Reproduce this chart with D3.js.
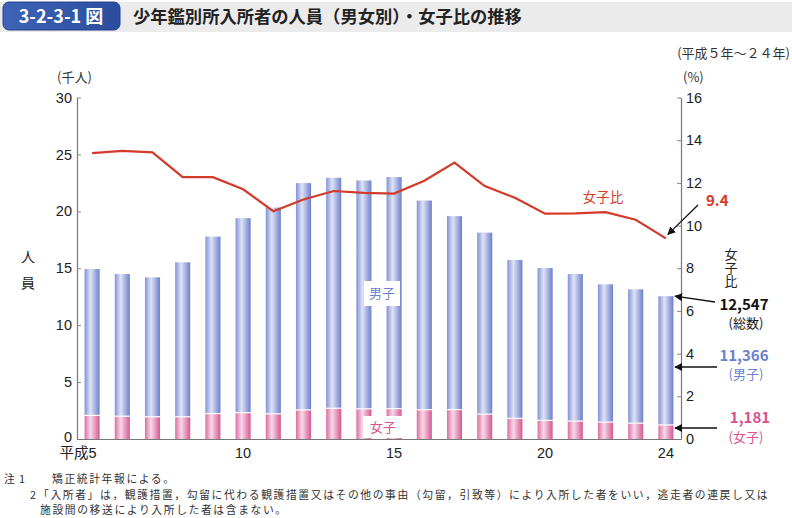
<!DOCTYPE html>
<html><head><meta charset="utf-8">
<script src="https://cdn.jsdelivr.net/npm/d3@7"></script>
<style>
body{margin:0;background:#fff;}
svg{display:block;font-family:"Noto Sans CJK JP","Noto Sans",sans-serif;}
</style>
</head><body>
<svg id="c" width="792" height="518"></svg>
<script>
// ---- data (thousands of persons, %)
const years = [5,6,7,8,9,10,11,12,13,14,15,16,17,18,19,20,21,22,23,24];
const xTickYears = [5,10,15,20,24];
const xTickLabels = ["平成5","10","15","20","24"];
const male   = [12.91,12.54,12.30,13.62,15.60,17.14,18.17,19.98,20.30,20.11,20.39,18.43,17.05,16.00,13.97,13.44,12.97,12.16,11.81,11.366];
const female = [2.02,1.95,1.90,1.90,2.18,2.26,2.16,2.50,2.65,2.60,2.62,2.52,2.53,2.13,1.76,1.58,1.52,1.43,1.34,1.181];
const ratio  = [13.39,13.50,13.43,12.27,12.27,11.70,10.67,11.22,11.62,11.53,11.50,12.10,12.95,11.85,11.30,10.56,10.57,10.63,10.27,9.4];
const leftTicks  = [0,5,10,15,20,25,30];
const rightTicks = [0,2,4,6,8,10,12,14,16];
const lastLabels = {total:"12,547", male:"11,366", female:"1,181", ratio:"9.4"};

const svg = d3.select("#c");
const L = 77, R = 681, T = 97.5, B = 439;

const x = d3.scaleBand().domain(years).range([L, R]).paddingInner(0.5).paddingOuter(0.25);
const yL = d3.scaleLinear().domain([0, 30]).range([B, T]);
const yR = d3.scaleLinear().domain([0, 16]).range([B, T]);

// gradients
const defs = svg.append("defs");
function grad(id, stops){
  const g = defs.append("linearGradient").attr("id", id).attr("x1","0%").attr("x2","100%").attr("y1","0%").attr("y2","0%");
  stops.forEach(s => g.append("stop").attr("offset", s[0]).attr("stop-color", s[1]));
}
grad("gBlue", [["0%","#8392d6"],["40%","#dfe3f6"],["100%","#6c7fcb"]]);
grad("gPink", [["0%","#dc6ea2"],["40%","#f8d9e7"],["100%","#d45893"]]);
grad("gHead", [["0%","#3f63b5"],["100%","#2b4d9e"]]);
defs.append("marker").attr("id","arr").attr("viewBox","0 0 10 10").attr("refX",9).attr("refY",5)
  .attr("markerWidth",8).attr("markerHeight",8).attr("orient","auto-start-reverse").attr("markerUnits","userSpaceOnUse")
  .append("path").attr("d","M0,0 L10,5 L0,10 z").attr("fill","#111");

// header
svg.append("rect").attr("x",0).attr("y",2).attr("width",792).attr("height",30).attr("fill","#ebebeb");
svg.append("rect").attr("x",3).attr("y",2).attr("width",117).attr("height",28).attr("rx",6).attr("fill","url(#gHead)").attr("stroke","#24428a").attr("stroke-width",1);
svg.append("text").attr("x",61).attr("y",23).attr("text-anchor","middle").attr("fill","#fff")
  .attr("font-size",18).attr("font-weight","bold").text("3-2-3-1 図");
svg.append("text").attr("x",133).attr("y",23).attr("fill","#222").attr("font-size",17.3).attr("font-weight","bold")
  .text("少年鑑別所入所者の人員（男女別）・女子比の推移");

svg.append("text").attr("x",790).attr("y",58).attr("text-anchor","end").attr("font-size",13).attr("fill","#333").text("(平成５年～２４年)");
svg.append("text").attr("x",57).attr("y",82).attr("font-size",13).attr("fill","#333").text("(千人)");
svg.append("text").attr("x",683).attr("y",82).attr("font-size",13).attr("fill","#333").text("(%)");

// bars
const g = svg.append("g");
years.forEach((yr, i) => {
  const bx = x(yr), bw = x.bandwidth();
  const fTop = yL(female[i]);
  g.append("rect").attr("x",bx).attr("width",bw).attr("y",fTop).attr("height",B - fTop).attr("fill","url(#gPink)");
  const mTop = yL(female[i] + male[i]);
  g.append("rect").attr("x",bx).attr("width",bw).attr("y",mTop).attr("height",fTop - mTop - 1.2).attr("fill","url(#gBlue)");
});

// labels inside plot
svg.append("rect").attr("x",364).attr("y",281).attr("width",36).attr("height",25).attr("fill","#fff");
svg.append("text").attr("x",382).attr("y",298).attr("text-anchor","middle").attr("font-size",13).attr("fill","#6b7fcf").text("男子");
svg.append("rect").attr("x",363).attr("y",416).attr("width",39).attr("height",22).attr("fill","#fff");
svg.append("text").attr("x",383).attr("y",432).attr("text-anchor","middle").attr("font-size",13).attr("fill","#d9508f").text("女子");

// ratio line
const line = d3.line().x((d,i) => x(years[i]) + x.bandwidth()/2).y(d => yR(d));
svg.append("path").datum(ratio).attr("d", line).attr("fill","none").attr("stroke","#d43a2a").attr("stroke-width",2.2).attr("stroke-linejoin","miter");
svg.append("text").attr("x",603).attr("y",202).attr("text-anchor","middle").attr("font-size",13.5).attr("fill","#d43a2a").text("女子比");

// axes
const axL = svg.append("g").attr("transform",`translate(${L},0)`)
  .call(d3.axisLeft(yL).tickValues(leftTicks).tickSize(-4).tickSizeOuter(0).tickPadding(5));
const axR = svg.append("g").attr("transform",`translate(${R},0)`)
  .call(d3.axisRight(yR).tickValues(rightTicks).tickSize(-4).tickSizeOuter(0).tickPadding(5));
const axB = svg.append("g").attr("transform",`translate(0,${B})`)
  .call(d3.axisBottom(x).tickValues(xTickYears).tickSize(0).tickSizeOuter(0).tickPadding(9)
    .tickFormat(d => xTickLabels[xTickYears.indexOf(d)]));
[axL, axR, axB].forEach(a => {
  a.select(".domain").attr("stroke","#777").attr("stroke-width",1.2);
  a.selectAll(".tick line").attr("stroke","#888");
  a.selectAll("text").attr("font-size",14.5).attr("fill","#222").attr("font-family",'"Liberation Sans","Noto Sans CJK JP",sans-serif');
});
axL.selectAll(".tick text").filter(d => d === 0).attr("dy","0.2em");
axB.selectAll(".tick text").filter(d => d === 5).attr("text-anchor","end").attr("dx","0.3em");

// axis titles
svg.append("text").attr("x",28).attr("y",262).attr("text-anchor","middle").attr("font-size",14).attr("fill","#222").text("人");
svg.append("text").attr("x",28).attr("y",288).attr("text-anchor","middle").attr("font-size",14).attr("fill","#222").text("員");
svg.append("text").attr("x",731).attr("y",248).attr("font-size",13).attr("fill","#222")
  .style("writing-mode","vertical-rl").attr("letter-spacing",0.5).text("女子比");

// right annotations
const last = years.length - 1;
svg.append("text").attr("x",706).attr("y",206).attr("font-size",15).attr("font-weight","bold").attr("fill","#d43a2a").text(lastLabels.ratio);
svg.append("line").attr("x1",698).attr("y1",205).attr("x2",x(years[last]) + x.bandwidth()/2 + 2).attr("y2",yR(ratio[last]) - 4)
  .attr("stroke","#111").attr("stroke-width",1.3).attr("marker-end","url(#arr)");

svg.append("text").attr("x",744).attr("y",310).attr("text-anchor","middle").attr("font-size",15).attr("font-weight","bold").attr("fill","#111").text(lastLabels.total);
svg.append("text").attr("x",746).attr("y",328).attr("text-anchor","middle").attr("font-size",13).attr("fill","#111").text("(総数)");
svg.append("line").attr("x1",715).attr("y1",302).attr("x2",675).attr("y2",yL(female[last] + male[last]))
  .attr("stroke","#111").attr("stroke-width",1.3).attr("marker-end","url(#arr)");

svg.append("text").attr("x",744).attr("y",361).attr("text-anchor","middle").attr("font-size",15).attr("font-weight","bold").attr("fill","#6b7fcf").text(lastLabels.male);
svg.append("text").attr("x",746).attr("y",379).attr("text-anchor","middle").attr("font-size",13).attr("fill","#6b7fcf").text("(男子)");
svg.append("line").attr("x1",717).attr("y1",367).attr("x2",675).attr("y2",367)
  .attr("stroke","#111").attr("stroke-width",1.3).attr("marker-end","url(#arr)");

svg.append("text").attr("x",750).attr("y",423).attr("text-anchor","middle").attr("font-size",15).attr("font-weight","bold").attr("fill","#d9508f").text(lastLabels.female);
svg.append("text").attr("x",746).attr("y",442).attr("text-anchor","middle").attr("font-size",13).attr("fill","#d9508f").text("(女子)");
svg.append("line").attr("x1",717).attr("y1",428).attr("x2",675).attr("y2",428)
  .attr("stroke","#111").attr("stroke-width",1.3).attr("marker-end","url(#arr)");

// notes
const nf = 10.8, ls = 1.6;
const note = (xx, yy, t) => svg.append("text").attr("x",xx).attr("y",yy).attr("font-size",nf)
  .attr("letter-spacing",ls).attr("fill","#333").text(t);
note(4, 483, "注");
note(19, 483, "1");
note(52, 483, "矯正統計年報による。");
note(30, 498.7, "2");
note(38, 498.7, "「入所者」は，観護措置，勾留に代わる観護措置又はその他の事由（勾留，引致等）により入所した者をいい，逃走者の連戻し又は");
note(40, 514.4, "施設間の移送により入所した者は含まない。");
</script>
</body></html>
